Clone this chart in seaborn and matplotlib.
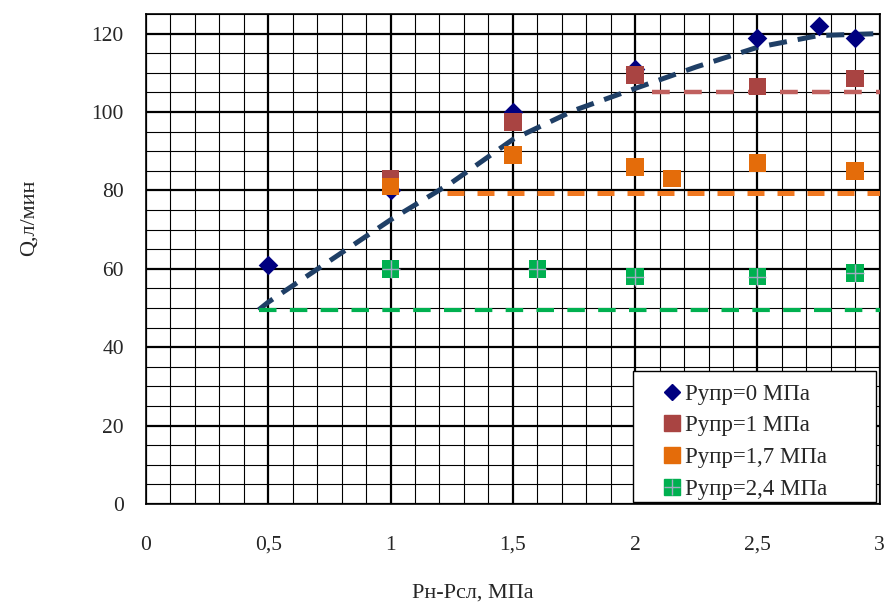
import pandas as pd
import seaborn as sns
import matplotlib.pyplot as plt
from matplotlib.lines import Line2D
from matplotlib.patches import Rectangle
from matplotlib.ticker import MultipleLocator, FuncFormatter

# measured points, Q (l/min) vs Pн-Pсл (MPa)
x_p0 = [0.5, 1, 1.5, 2, 2.5, 2.75, 2.9]
q_p0 = [61, 80, 100, 111, 119, 122, 119]
x_p1 = [1, 1.5, 2, 2.5, 2.9]
q_p1 = [83, 97.5, 109.5, 106.5, 108.5]
x_p17 = [1, 1.5, 2, 2.15, 2.5, 2.9]
q_p17 = [81, 89, 86, 83, 87, 85]
x_p24 = [1, 1.6, 2, 2.5, 2.9]
q_p24 = [60, 60, 58, 58, 59]

labels = ["Рупр=0 МПа", "Рупр=1 МПа", "Рупр=1,7 МПа", "Рупр=2,4 МПа"]

# dashed approximation lines
trend_x = [0.46, 0.5, 0.75, 1, 1.25, 1.5, 1.75, 2, 2.25, 2.5, 2.75, 3]
trend_q = [49.5, 51.5, 62, 72.5, 82, 93, 100.4, 106, 111.5, 116.5, 119.5, 120]
lvl_x1 = [2.07, 3]
lvl_q1 = [105, 105]
lvl_x17 = [1.23, 3]
lvl_q17 = [79.3, 79.3]
lvl_x24 = [0.46, 3]
lvl_q24 = [49.4, 49.4]

colors = ["#000080", "#A94442", "#E46C0A", "#00B050"]
plus_col = "#A3ABC2"

df = pd.concat([
    pd.DataFrame({"x": x_p1, "q": q_p1, "series": labels[1]}),
    pd.DataFrame({"x": x_p17, "q": q_p17, "series": labels[2]}),
    pd.DataFrame({"x": x_p24, "q": q_p24, "series": labels[3]}),
], ignore_index=True)

sns.set_style("white")
plt.rcParams["font.family"] = ["Liberation Serif", "DejaVu Serif"]

fig = plt.figure(figsize=(8.85, 6.08), dpi=100)
ax = fig.add_axes([0.165, 0.171, 0.829, 0.806])

# grid
ax.xaxis.set_major_locator(MultipleLocator(0.5))
ax.xaxis.set_minor_locator(MultipleLocator(0.1))
ax.yaxis.set_major_locator(MultipleLocator(20))
ax.yaxis.set_minor_locator(MultipleLocator(5))
ax.grid(which="major", color="black", lw=1.6, zorder=0)
ax.grid(which="minor", color="black", lw=0.8, zorder=0)
ax.set_axisbelow(True)

# trend lines
sns.lineplot(x=trend_x, y=trend_q, color="#1F3F66", lw=3.6, sort=False,
             linestyle=(0, (3.6, 2.2)), ax=ax, zorder=3)
sns.lineplot(x=lvl_x1, y=lvl_q1, color="#C0605E", lw=3.2,
             linestyle=(0, (4.0, 3.2)), ax=ax, zorder=3)
sns.lineplot(x=lvl_x17, y=lvl_q17, color="#F07820", lw=3.6,
             linestyle=(0, (3.4, 2.6)), ax=ax, zorder=3)
sns.lineplot(x=lvl_x24, y=lvl_q24, color="#00B050", lw=3.0,
             linestyle=(0, (4.2, 3.2)), ax=ax, zorder=3)

# points
sns.scatterplot(x=x_p0, y=q_p0, marker="D", color=colors[0], s=100,
                linewidth=0, legend=False, ax=ax, zorder=4)
sns.scatterplot(data=df, x="x", y="q", hue="series",
                palette=dict(zip(labels[1:], colors[1:])),
                marker="s", s=160, linewidth=0, legend=False, ax=ax, zorder=4)
sns.scatterplot(x=x_p24, y=q_p24, marker="+", color=plus_col, s=160,
                linewidth=1.0, legend=False, ax=ax, zorder=5)

ax.set_xlim(0, 3)
ax.set_ylim(0, 125)
fmt = FuncFormatter(lambda v, p: f"{v:g}".replace(".", ","))
ax.xaxis.set_major_formatter(fmt)
ax.yaxis.set_major_formatter(fmt)
ax.tick_params(which="major", direction="out", length=6, width=1.2,
               labelsize=15.5, color="black")
ax.tick_params(axis="x", pad=17)
ax.tick_params(axis="y", pad=10)
ax.tick_params(which="minor", length=0)
for sp in ax.spines.values():
    sp.set_color("black")
    sp.set_linewidth(1.2)

ax.set_xlabel("Рн-Рсл, МПа", fontsize=16)
ax.set_ylabel("Q,л/мин", fontsize=16)
ax.xaxis.set_label_coords(0.445, -0.162)
ax.yaxis.set_label_coords(-0.147, 0.584)

# legend box
ax.add_patch(Rectangle((0.6635, 0.004), 0.331, 0.267, transform=ax.transAxes,
                       facecolor="white", edgecolor="black", lw=1.0, zorder=6))
handles = [
    Line2D([], [], ls="", marker="D", color=colors[0], ms=8.5),
    Line2D([], [], ls="", marker="s", color=colors[1], ms=11),
    Line2D([], [], ls="", marker="s", color=colors[2], ms=11),
    (Line2D([], [], ls="", marker="s", color=colors[3], ms=11),
     Line2D([], [], ls="", marker="+", color=plus_col, ms=11, mew=1.0)),
]
leg = ax.legend(handles, labels, loc="upper left", bbox_to_anchor=(0.7016, 0.246),
                fontsize=16.5, frameon=False, handlelength=1.0, handletextpad=0.05,
                borderpad=0, labelspacing=0.47, borderaxespad=0)
leg.set_zorder(7)

fig.savefig("out.png", dpi=100)
